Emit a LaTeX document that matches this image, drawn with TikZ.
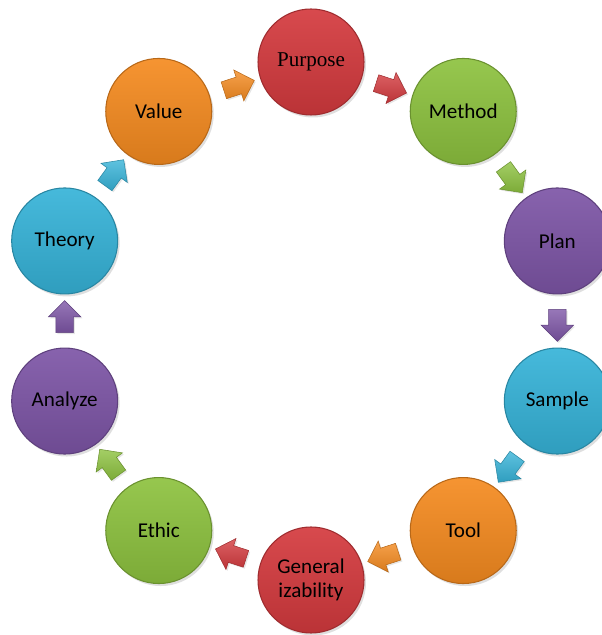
\documentclass[tikz,border=0pt]{standalone}
\usepackage{fontspec}
\setmainfont{Carlito}
\newfontfamily\purposefont{Liberation Serif}
\usetikzlibrary{calc,shapes.arrows,shadows}

\begin{document}
\begin{tikzpicture}[cyclenode/.style={circle,minimum size=2.12cm,inner sep=0,align=center,
    font=\fontsize{12}{13.5}\selectfont,draw=#1!75!black,line width=0.6pt,
    top color=#1!92!white,middle color=#1,bottom color=#1!88!black,
    drop shadow={opacity=0.25,shadow xshift=0.04cm,shadow yshift=-0.05cm}},
  cyclearrow/.style={single arrow,inner sep=0.17cm,single arrow head extend=0.15cm,
    minimum height=0.64cm,draw=#1!75!black,line width=0.3pt,
    top color=#1!80!white,bottom color=#1!88!black,
    drop shadow={opacity=0.2,shadow xshift=0.03cm,shadow yshift=-0.03cm}}]
\definecolor{rosered}{HTML}{D43A3E}
\definecolor{leafgreen}{HTML}{8DC23F}
\definecolor{grape}{HTML}{7D55A6}
\definecolor{aqua}{HTML}{36B3D8}
\definecolor{tangerine}{HTML}{F58B20}
\useasboundingbox (0,0) rectangle (12.04,12.7);
  \foreach \name/\txt/\crlr/\ang in {purpose/{\purposefont Purpose}/rosered/90,
    method/Method/leafgreen/54,plan/Plan/grape/18,sample/Sample/aqua/-18,
    tool/Tool/tangerine/-54,general/{General\\izability}/rosered/-90,
    ethic/Ethic/leafgreen/-126,analyze/Analyze/grape/-162,
    theory/Theory/aqua/162,value/Value/tangerine/126}
  {  \node [cyclenode=\crlr] (\name) at ($(6.22,6.28)+(\ang:5.18)$) {\txt};}
  \foreach \from/\to/\crlr in {value/purpose/tangerine,purpose/method/rosered,
    method/plan/leafgreen,plan/sample/grape,sample/tool/aqua,tool/general/tangerine,
    general/ethic/rosered,ethic/analyze/leafgreen,analyze/theory/grape,theory/value/aqua}
  {  \path let \p1=($(\to)-(\from)$), \n1={atan2(\y1,\x1)} in
       node [cyclearrow=\crlr,rotate=\n1] (\from-\to) at ($(\from)!0.5!(\to)$) {};}
\end{tikzpicture}
\end{document}
